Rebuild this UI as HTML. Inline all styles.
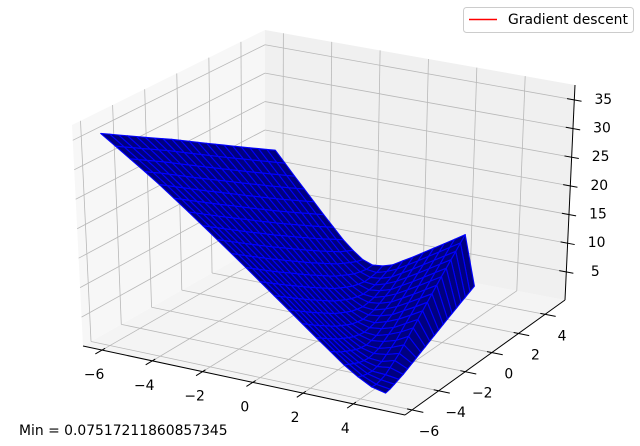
<!DOCTYPE html>
<html><head><meta charset="utf-8"><style>
html,body{margin:0;padding:0;background:#fff;}
svg{display:block;font-family:"DejaVu Sans","Liberation Sans",sans-serif;}
</style></head><body>
<svg id="chart" width="640" height="446" viewBox="0 0 640 446" xmlns="http://www.w3.org/2000/svg">
<g id="panes"></g>
<g id="grid"></g>
<g id="axes"></g>
<g id="surf"></g>
<g id="labels"></g>
<g>
<rect x="463.5" y="7.5" width="170" height="25" rx="3" fill="#fff" fill-opacity="0.8" stroke="#cccccc"/>
<line x1="469" y1="19.5" x2="497" y2="19.5" stroke="#ff0000" stroke-width="1.5"/>
<text x="508" y="24" font-size="13.9" fill="#000">Gradient descent</text>
</g>
<text x="19" y="435" font-size="13.9" fill="#000">Min = 0.07517211860857345</text>
</svg>
<script>
const xTicks=[-6,-4,-2,0,2,4];
const yTicks=[-6,-4,-2,0,2,4];
const zTicks=[5,10,15,20,25,30,35];
const xLim=[-6.76,6.06];
const yLim=[-6.53,5.5];
const zLim=[0.1,37.6];
// surface corner locations in data (x,y): A, B (along a), D (along b), C
const cornerX=[-6,-6,5,5];
const cornerY=[-6,5,-6,0.5];
// valley profile along s = b + 0.5a
const sVals=[0,0.2,0.4,0.6,0.75,0.85,0.92,0.97,1.02,1.1,1.2,1.35,1.5];
const zVals=[36,29,21.5,14,8.5,5,3,2,1.8,2.8,5,8.5,12];
const bumpVals=[0,7];
const edgeDrop=[0.96,0.45];

const NS="http://www.w3.org/2000/svg";
const P={"000":[83,346],"100":[405,415],"110":[565,300],"010":[265,243],
"001":[72,125],"101":[407,178],"111":[575,85],"011":[265,30]};
function proj(x,y,z){
 const u=(x-xLim[0])/(xLim[1]-xLim[0]),v=(y-yLim[0])/(yLim[1]-yLim[0]),w=(z-zLim[0])/(zLim[1]-zLim[0]);
 let sx=0,sy=0;
 for(const k in P){
  const f=(k[0]=="1"?u:1-u)*(k[1]=="1"?v:1-v)*(k[2]=="1"?w:1-w);
  sx+=f*P[k][0];sy+=f*P[k][1];
 }
 return [sx,sy];
}
function mk(tag,attrs,parent){const e=document.createElementNS(NS,tag);for(const k in attrs)e.setAttribute(k,attrs[k]);parent.appendChild(e);return e;}
function poly(pts){return pts.map(p=>p[0].toFixed(1)+","+p[1].toFixed(1)).join(" ");}
const gP=document.getElementById("panes"),gG=document.getElementById("grid"),gA=document.getElementById("axes"),gS=document.getElementById("surf"),gL=document.getElementById("labels");
const [x0,x1]=xLim,[y0,y1]=yLim,[z0,z1]=zLim;
let e;
e=mk("polygon",{points:poly([proj(x0,y0,z0),proj(x1,y0,z0),proj(x1,y1,z0),proj(x0,y1,z0)]),fill:"#f4f4f4"},gP);


e=mk("polygon",{points:poly([proj(x0,y0,z0),proj(x0,y1,z0),proj(x0,y1,z1),proj(x0,y0,z1)]),fill:"#f7f7f7"},gP);


e=mk("polygon",{points:poly([proj(x0,y1,z0),proj(x1,y1,z0),proj(x1,y1,z1),proj(x0,y1,z1)]),fill:"#f0f0f0"},gP);


function gl(a,b){const l=mk("line",{x1:a[0],y1:a[1],x2:b[0],y2:b[1],stroke:"#b8b8b8","stroke-width":0.8},gG);
 
 }
xTicks.forEach(t=>{gl(proj(t,y0,z0),proj(t,y1,z0));gl(proj(t,y1,z0),proj(t,y1,z1));});
yTicks.forEach(t=>{gl(proj(x0,t,z0),proj(x1,t,z0));gl(proj(x0,t,z0),proj(x0,t,z1));});
zTicks.forEach(t=>{gl(proj(x0,y0,t),proj(x0,y1,t));gl(proj(x0,y1,t),proj(x1,y1,t));});
function al(a,b,name){const l=mk("line",{x1:a[0],y1:a[1],x2:b[0],y2:b[1],stroke:"#000","stroke-width":1},gA);
 
 }
al(proj(x0,y0,z0),proj(x1,y0,z0),'x-axis-line');
al(proj(x1,y0,z0),proj(x1,y1,z0),'y-axis-line');
al(proj(x1,y1,z0),proj(x1,y1,z1),'z-axis-line');
function lab(p,txt,name){const t=mk("text",{x:p[0].toFixed(1),y:p[1].toFixed(1),"font-size":13.9,"text-anchor":"middle","dominant-baseline":"central",fill:"#000"},gL);
 t.textContent=txt;
 
 }
function fmt(v){return v<0?"\u2212"+(-v):String(v);}
xTicks.forEach(t=>{const a=proj(t,y0,z0),b=proj(t,y0-0.45,z0),c=proj(t,y0+0.2,z0);
 al(c,b,'x-tick');lab([a[0]-8,a[1]+25],fmt(t),'x-tick-label');});
yTicks.forEach(t=>{const a=proj(x1,t,z0),b=proj(x1+0.45,t,z0),c=proj(x1-0.2,t,z0);
 al(c,b,'y-tick');lab([a[0]+17,a[1]+22],fmt(t),'y-tick-label');});
zTicks.forEach(t=>{const a=proj(x1,y1,t),b=proj(x1+0.3,y1,t),c=proj(x1-0.3,y1,t);
 al(c,b,'z-tick');lab([a[0]+29,a[1]],fmt(t),'z-tick-label');});
function interp(s){if(s<=sVals[0])return zVals[0];
 for(let i=1;i<sVals.length;i++){if(s<=sVals[i]){const f=(s-sVals[i-1])/(sVals[i]-sVals[i-1]);return zVals[i-1]+f*(zVals[i]-zVals[i-1]);}}
 return zVals[zVals.length-1];}
function pt(a,b){
 const x=(1-a)*(1-b)*cornerX[0]+a*(1-b)*cornerX[1]+(1-a)*b*cornerX[2]+a*b*cornerX[3];
 const y=(1-a)*(1-b)*cornerY[0]+a*(1-b)*cornerY[1]+(1-a)*b*cornerY[2]+a*b*cornerY[3];
 let z=interp(b+0.5*a)+bumpVals[0]+bumpVals[1]*a*b;
 if(b>edgeDrop[0]+1e-9) z=interp(b)+(z-interp(b))*edgeDrop[1];
 return [x,y,z];}
const N=20,quads=[];
const eye=[0.433,-0.75,0.5];
for(let i=0;i<N;i++)for(let j=0;j<N;j++){
 const c=[pt(i/N,j/N),pt((i+1)/N,j/N),pt((i+1)/N,(j+1)/N),pt(i/N,(j+1)/N)];
 let d=0;c.forEach(p=>{d+=eye[0]*(p[0]-x0)/(x1-x0)+eye[1]*(p[1]-y0)/(y1-y0)+eye[2]*(p[2]-z0)/(z1-z0);});
 quads.push({c,d});}
quads.sort((p,q)=>p.d-q.d);
quads.forEach(q=>{const el=mk("polygon",{points:poly(q.c.map(p=>proj(p[0],p[1],p[2]))),fill:"#000080",stroke:"#0000ff","stroke-width":1.1,"stroke-linejoin":"round"},gS);
 
 });
</script>
</body></html>
